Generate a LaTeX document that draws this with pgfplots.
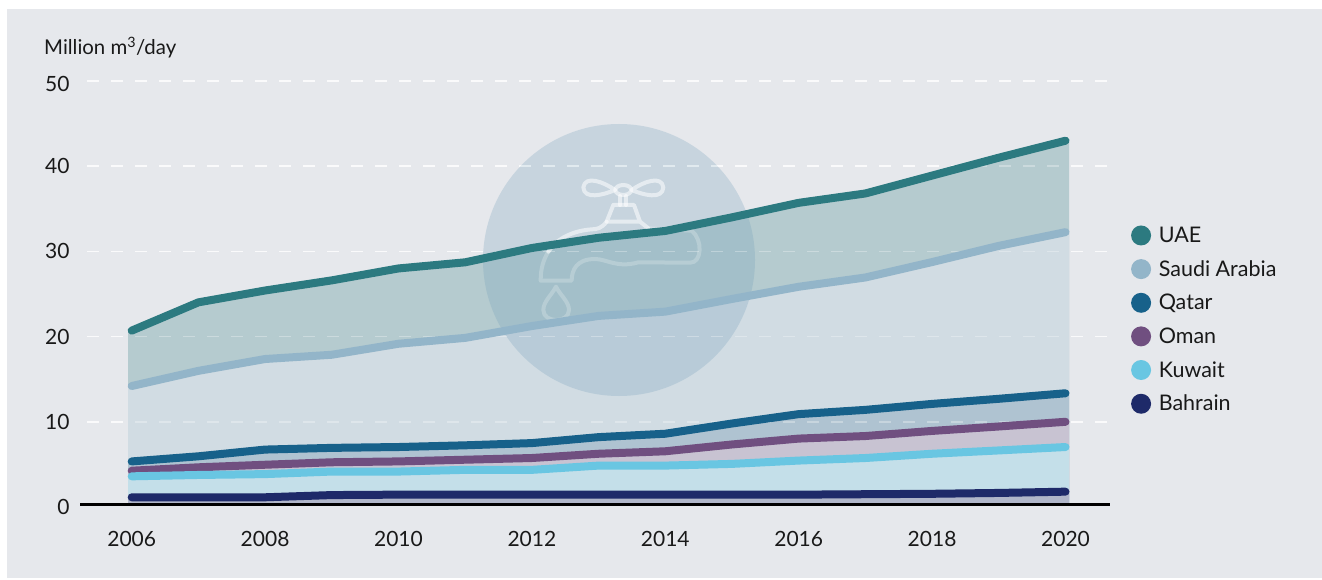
\documentclass[border=0pt]{standalone}
\usepackage{pgfplots}
\pgfplotsset{compat=1.18}
\usepackage{fontspec}
\setmainfont{Lato}
\definecolor{bg}{HTML}{E6E8EC}
\definecolor{cUAE}{HTML}{2C7A80}
\definecolor{cSA}{HTML}{93B5C9}
\definecolor{cQA}{HTML}{17618A}
\definecolor{cOM}{HTML}{704F80}
\definecolor{cKW}{HTML}{69C6E2}
\definecolor{cBH}{HTML}{1E2A69}
\definecolor{fUAE}{HTML}{B5CBCF}
\definecolor{fSA}{HTML}{D1DCE3}
\definecolor{fQA}{HTML}{AFC3D1}
\definecolor{fOM}{HTML}{C8C3D2}
\definecolor{fKW}{HTML}{C4DFE9}
\definecolor{fBH}{HTML}{B0B6C9}
\definecolor{circ}{HTML}{6E9CB8}
\begin{document}
\begin{tikzpicture}[x=1pt,y=1pt]
\path[use as bounding box] (0,0) rectangle (1322,579);
\fill[white] (0,0) rectangle (1322,579);
\fill[bg] (7,1) rectangle (1322,570);
\begin{axis}[at={(80pt,74.5pt)},anchor=south west,scale only axis,width=1030pt,height=427.76pt,
  xmin=2005.225,xmax=2020.667,ymin=0.29,ymax=50.5,hide axis]
\foreach \v in {10,20,30,40,50} {
 \addplot[forget plot,white,opacity=0.75,line width=1.5pt,dash pattern=on 12pt off 12pt] coordinates {(2005.33,\v)(2020.667,\v)};
}
\addplot[fill=fUAE,draw=fUAE,line width=7pt,line join=round] coordinates {(2006,20.7)(2007,24.02)(2008,25.41)(2009,26.6)(2010,28.0)(2011,28.72)(2012,30.4)(2013,31.6)(2014,32.4)(2015,34.0)(2016,35.7)(2017,36.8)(2018,38.9)(2019,41.0)(2020,42.99)} \closedcycle;
\addplot[fill=fSA,draw=fSA,line width=7pt,line join=round] coordinates {(2006,14.2)(2007,15.98)(2008,17.37)(2009,17.87)(2010,19.16)(2011,19.85)(2012,21.24)(2013,22.43)(2014,22.93)(2015,24.42)(2016,25.85)(2017,26.94)(2018,28.75)(2019,30.65)(2020,32.26)} \closedcycle;
\addplot[fill=fQA,draw=fQA,line width=7pt,line join=round] coordinates {(2006,5.35)(2007,5.95)(2008,6.74)(2009,6.94)(2010,7.04)(2011,7.24)(2012,7.5)(2013,8.2)(2014,8.6)(2015,9.8)(2016,10.9)(2017,11.4)(2018,12.1)(2019,12.7)(2020,13.35)} \closedcycle;
\addplot[fill=fOM,draw=fOM,line width=7pt,line join=round] coordinates {(2006,4.26)(2007,4.66)(2008,4.96)(2009,5.25)(2010,5.35)(2011,5.55)(2012,5.75)(2013,6.25)(2014,6.54)(2015,7.34)(2016,8.03)(2017,8.33)(2018,8.93)(2019,9.45)(2020,10.0)} \closedcycle;
\addplot[fill=fKW,draw=fKW,line width=7pt,line join=round] coordinates {(2006,3.6)(2007,3.76)(2008,3.86)(2009,4.16)(2010,4.16)(2011,4.36)(2012,4.36)(2013,4.86)(2014,4.86)(2015,5.06)(2016,5.45)(2017,5.75)(2018,6.25)(2019,6.64)(2020,7.04)} \closedcycle;
\addplot[fill=fBH,draw=fBH,line width=7pt,line join=round] coordinates {(2006,1.14)(2007,1.14)(2008,1.14)(2009,1.4)(2010,1.45)(2011,1.45)(2012,1.45)(2013,1.45)(2014,1.45)(2015,1.45)(2016,1.45)(2017,1.5)(2018,1.55)(2019,1.65)(2020,1.8)} \closedcycle;
\end{axis}
% watermark: circle and tap
\fill[circ,opacity=0.25] (619,319) circle (136);
\begin{scope}[shift={(460,469)},x=0.33333pt,y=-0.33333pt,draw=white,line width=4pt,line join=round,line cap=round]
\begin{scope}[opacity=0.55]
\draw (490,240) ellipse [x radius=24,y radius=15];
\draw (465,240) .. controls (430,215) and (375,195) .. (370,232) .. controls (372,270) and (430,255) .. (465,240);
\draw (515,240) .. controls (550,215) and (605,195) .. (610,232) .. controls (608,270) and (550,255) .. (515,240);
\draw (481,258) -- (481,285) (498,258) -- (498,285);
\draw (460,285) -- (522,285) -- (540,335) (460,285) -- (440,335) -- (540,335) -- (565,355);
\draw (440,335) .. controls (425,355) and (410,358) .. (395,358) .. controls (340,362) and (290,385) .. (265,425);
\end{scope}
\begin{scope}[opacity=0.22]
\draw (265,425) .. controls (250,450) and (242,475) .. (242,512) -- (335,512) .. controls (335,480) and (350,447) .. (405,447) .. controls (440,447) and (470,475) .. (535,457) -- (690,458) .. controls (725,460) and (730,390) .. (695,362) -- (565,355);
\draw (288,530) .. controls (275,555) and (250,575) .. (250,600) .. controls (250,640) and (327,640) .. (327,600) .. controls (327,575) and (300,555) .. (288,530) -- cycle;
\end{scope}
\end{scope}
\begin{axis}[at={(80pt,72pt)},anchor=south west,scale only axis,width=1030pt,height=426pt,
  xmin=2005.225,xmax=2020.667,ymin=0,ymax=50,
  axis line style={draw=none},major tick length=0pt,
  xtick={2006,2008,2010,2012,2014,2016,2018,2020},ytick={0,10,20,30,40},
  extra y ticks={50},extra tick style={yticklabel style={yshift=-3pt}},
  /pgf/number format/1000 sep={},/pgf/number format/assume math mode=true,
  tick label style={font=\fontsize{21}{24}\selectfont,text=black!90},
  xticklabel style={yshift=-21pt},yticklabel style={xshift=-7pt},
  legend cell align=left,
  legend style={draw=none,fill=none,at={(1.0203,0.6624)},anchor=north west,font=\fontsize{21.5}{24}\selectfont,
    row sep=12.5pt,inner sep=0pt,text=black!90},
  legend image code/.code={\fill[#1,draw=none] (0.2cm,0cm) circle (10pt);\path[draw=none] (0.2cm,0cm) -- ++(15.7pt,0pt);},
  clip=false]
\foreach \v in {10,20,30,40,50} {
 \addplot[forget plot,white,opacity=0.3,line width=1.5pt,dash pattern=on 12pt off 12pt] coordinates {(2005.33,\v)(2020.667,\v)};
}
\addplot[forget plot,black,line width=3pt] coordinates {(2005.225,0.29)(2020.667,0.29)};
\addplot[color=cUAE,line width=8pt,line cap=round,line join=round] coordinates {(2006,20.7)(2007,24.02)(2008,25.41)(2009,26.6)(2010,28.0)(2011,28.72)(2012,30.4)(2013,31.6)(2014,32.4)(2015,34.0)(2016,35.7)(2017,36.8)(2018,38.9)(2019,41.0)(2020,42.99)};
\addlegendentry{UAE}
\addplot[color=cSA,line width=8pt,line cap=round,line join=round] coordinates {(2006,14.2)(2007,15.98)(2008,17.37)(2009,17.87)(2010,19.16)(2011,19.85)(2012,21.24)(2013,22.43)(2014,22.93)(2015,24.42)(2016,25.85)(2017,26.94)(2018,28.75)(2019,30.65)(2020,32.26)};
\addlegendentry{Saudi Arabia}
\addplot[color=cQA,line width=8pt,line cap=round,line join=round] coordinates {(2006,5.35)(2007,5.95)(2008,6.74)(2009,6.94)(2010,7.04)(2011,7.24)(2012,7.5)(2013,8.2)(2014,8.6)(2015,9.8)(2016,10.9)(2017,11.4)(2018,12.1)(2019,12.7)(2020,13.35)};
\addlegendentry{Qatar}
\addplot[color=cOM,line width=8pt,line cap=round,line join=round] coordinates {(2006,4.26)(2007,4.66)(2008,4.96)(2009,5.25)(2010,5.35)(2011,5.55)(2012,5.75)(2013,6.25)(2014,6.54)(2015,7.34)(2016,8.03)(2017,8.33)(2018,8.93)(2019,9.45)(2020,10.0)};
\addlegendentry{Oman}
\addplot[color=cKW,line width=8pt,line cap=round,line join=round] coordinates {(2006,3.6)(2007,3.76)(2008,3.86)(2009,4.16)(2010,4.16)(2011,4.36)(2012,4.36)(2013,4.86)(2014,4.86)(2015,5.06)(2016,5.45)(2017,5.75)(2018,6.25)(2019,6.64)(2020,7.04)};
\addlegendentry{Kuwait}
\addplot[color=cBH,line width=8pt,line cap=round,line join=round] coordinates {(2006,1.14)(2007,1.14)(2008,1.14)(2009,1.4)(2010,1.45)(2011,1.45)(2012,1.45)(2013,1.45)(2014,1.45)(2015,1.45)(2016,1.45)(2017,1.5)(2018,1.55)(2019,1.65)(2020,1.8)};
\addlegendentry{Bahrain}
\end{axis}
\node[anchor=base west,inner sep=0pt,font=\fontsize{20.4}{24}\selectfont,text=black!90] at (44,524) {Million m\textsuperscript{3}/day};
\end{tikzpicture}
\end{document}
